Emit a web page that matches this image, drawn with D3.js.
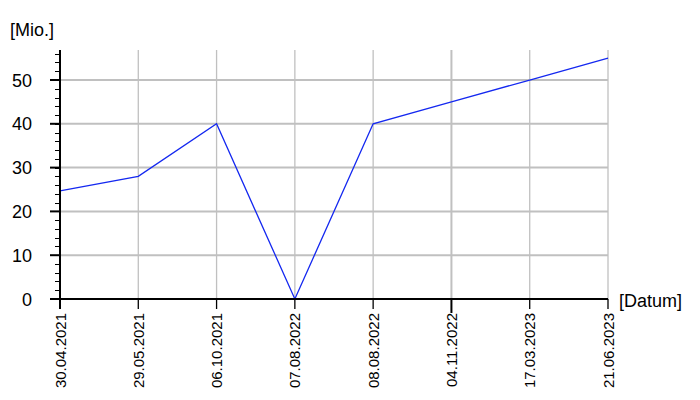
<!DOCTYPE html>
<html><head><meta charset="utf-8">
<script src="https://cdn.jsdelivr.net/npm/d3@7"></script>
<style>body{margin:0;background:#fff}svg{display:block;font-family:"Liberation Sans",Arial,sans-serif}</style>
</head><body><svg id="c" width="700" height="400"></svg>
<script>
const categories = ["30.04.2021","29.05.2021","06.10.2021","07.08.2022","08.08.2022","04.11.2022","17.03.2023","21.06.2023"];
const values = [24.7, 28, 40, 0, 40, 45, 50, 55];
const yTicks = [0,10,20,30,40,50];
const yMinor = d3.range(0, 57, 2);

const svg = d3.select("#c");
const L=60, R=608, T=50, B=299;
const x = d3.scalePoint().domain(categories).range([L,R]);
const y = d3.scaleLinear().domain([0,56.85]).range([B,T]);

// grid
svg.append("g").selectAll("line").data(yTicks.filter(d=>d>0)).join("line")
  .attr("x1",L).attr("x2",R).attr("y1",d=>y(d)).attr("y2",d=>y(d))
  .attr("stroke","#c0c0c0").attr("stroke-width",2);
svg.append("g").selectAll("line").data(categories.slice(1)).join("line")
  .attr("x1",d=>x(d)).attr("x2",d=>x(d)).attr("y1",T).attr("y2",B)
  .attr("stroke","#c0c0c0").attr("stroke-width",d=>d==="04.11.2022"?2:1.3);

// line
svg.append("path").datum(values)
  .attr("d", d3.line().x((d,i)=>x(categories[i])).y(d=>y(d)))
  .attr("fill","none").attr("stroke","#1428f0").attr("stroke-width",1.3);

// y axis
const ya = svg.append("g").attr("transform",`translate(${L},0)`);
ya.append("line").attr("x1",0).attr("x2",0).attr("y1",T).attr("y2",B+1).attr("stroke","#000").attr("stroke-width",2);
ya.selectAll(".mn").data(yMinor).join("line").attr("class","mn")
  .attr("x1",-5).attr("x2",0).attr("y1",d=>Math.round(y(d))+0.5).attr("y2",d=>Math.round(y(d))+0.5).attr("stroke","#000").attr("stroke-width",1);
ya.selectAll(".mj").data(yTicks).join("line").attr("class","mj")
  .attr("x1",-10).attr("x2",0).attr("y1",d=>y(d)).attr("y2",d=>y(d)).attr("stroke","#000").attr("stroke-width",2);
ya.selectAll("text").data(yTicks).join("text")
  .attr("x",-28).attr("y",d=>y(d)+6.5).attr("text-anchor","end").attr("font-size",18).text(d=>d);

// x axis
const xa = svg.append("g");
xa.append("line").attr("x1",L-1).attr("x2",R).attr("y1",B).attr("y2",B).attr("stroke","#000").attr("stroke-width",2);
xa.selectAll(".t").data(categories).join("line").attr("class","t")
  .attr("x1",d=>x(d)).attr("x2",d=>x(d)).attr("y1",B).attr("y2",d=>d==="04.11.2022"?313:309)
  .attr("stroke","#000").attr("stroke-width",d=>(d==="04.11.2022"||d===categories[0])?2:1.3);
xa.selectAll("text").data(categories).join("text")
  .attr("transform",d=>`translate(${x(d)+5.5},313) rotate(-90)`)
  .attr("text-anchor","end").attr("font-size",15).text(d=>d);

svg.append("text").attr("x",10).attr("y",36).attr("font-size",18).text("[Mio.]");
svg.append("text").attr("x",619).attr("y",307).attr("font-size",18).text("[Datum]");
</script></body></html>
